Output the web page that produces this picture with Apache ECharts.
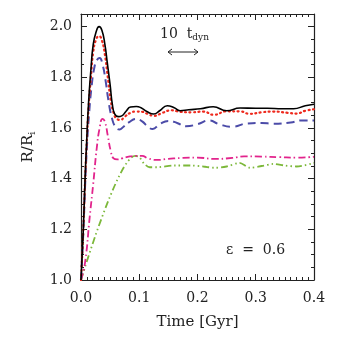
<!DOCTYPE html>
<html>
<head>
<meta charset="utf-8">
<script src="https://cdn.jsdelivr.net/npm/echarts@6/dist/echarts.min.js"></script>
<style>
  html, body { margin: 0; padding: 0; background: #fff; }
  #chart { width: 346px; height: 337px; }
</style>
</head>
<body>
<div id="chart"></div>
<script>
// time in Gyr, radius in units of R_i
var tBlack = [0, 0.004, 0.007, 0.010, 0.013, 0.017, 0.021, 0.026, 0.031, 0.036, 0.041, 0.045, 0.050, 0.054, 0.058, 0.064, 0.070, 0.077, 0.085, 0.095, 0.103, 0.113, 0.125, 0.135, 0.148, 0.160, 0.170, 0.185, 0.205, 0.227, 0.250, 0.273, 0.300, 0.320, 0.345, 0.365, 0.385, 0.400];
var rBlack = [1.0, 1.20, 1.40, 1.56, 1.70, 1.83, 1.93, 1.98, 2.0, 1.985, 1.93, 1.86, 1.77, 1.69, 1.655, 1.645, 1.648, 1.665, 1.683, 1.685, 1.68, 1.665, 1.655, 1.668, 1.688, 1.68, 1.668, 1.672, 1.676, 1.684, 1.668, 1.679, 1.678, 1.678, 1.676, 1.676, 1.688, 1.694];

var tRed = [0, 0.004, 0.007, 0.010, 0.013, 0.017, 0.021, 0.026, 0.031, 0.036, 0.041, 0.046, 0.051, 0.056, 0.062, 0.068, 0.075, 0.085, 0.095, 0.105, 0.115, 0.125, 0.140, 0.155, 0.170, 0.190, 0.210, 0.228, 0.250, 0.272, 0.290, 0.310, 0.330, 0.355, 0.370, 0.385, 0.400];
var rRed = [1.0, 1.20, 1.39, 1.55, 1.68, 1.80, 1.90, 1.95, 1.963, 1.945, 1.89, 1.80, 1.71, 1.66, 1.635, 1.632, 1.645, 1.66, 1.665, 1.664, 1.655, 1.648, 1.66, 1.67, 1.664, 1.662, 1.665, 1.652, 1.666, 1.666, 1.656, 1.662, 1.665, 1.66, 1.657, 1.668, 1.674];

var tBlue = [0, 0.004, 0.007, 0.010, 0.014, 0.018, 0.023, 0.028, 0.032, 0.037, 0.042, 0.047, 0.053, 0.059, 0.066, 0.073, 0.082, 0.095, 0.105, 0.115, 0.123, 0.135, 0.150, 0.165, 0.180, 0.200, 0.220, 0.237, 0.260, 0.285, 0.310, 0.330, 0.360, 0.380, 0.400];
var rBlue = [1.0, 1.19, 1.37, 1.52, 1.66, 1.76, 1.84, 1.87, 1.876, 1.85, 1.79, 1.71, 1.64, 1.605, 1.594, 1.605, 1.622, 1.636, 1.626, 1.605, 1.596, 1.615, 1.628, 1.62, 1.607, 1.615, 1.63, 1.615, 1.605, 1.618, 1.62, 1.617, 1.622, 1.63, 1.63];

var tPink = [0, 0.007, 0.015, 0.021, 0.027, 0.032, 0.037, 0.041, 0.046, 0.051, 0.056, 0.062, 0.070, 0.080, 0.095, 0.105, 0.115, 0.130, 0.150, 0.175, 0.200, 0.230, 0.260, 0.280, 0.310, 0.340, 0.370, 0.400];
var rPink = [1.0, 1.07, 1.25, 1.38, 1.52, 1.60, 1.636, 1.625, 1.57, 1.51, 1.48, 1.476, 1.48, 1.486, 1.49, 1.49, 1.48, 1.474, 1.478, 1.482, 1.483, 1.478, 1.482, 1.488, 1.487, 1.485, 1.483, 1.486];

var tGreen = [0, 0.093, 0.100, 0.108, 0.118, 0.130, 0.160, 0.190, 0.210, 0.230, 0.250, 0.272, 0.290, 0.310, 0.330, 0.350, 0.370, 0.400];
var rGreen = [1.0, 1.49, 1.485, 1.46, 1.445, 1.445, 1.452, 1.452, 1.448, 1.443, 1.448, 1.462, 1.443, 1.45, 1.458, 1.452, 1.448, 1.462];

function pairs(t, r) {
  return t.map(function (v, i) { return [v, r[i]]; });
}

var font = 'DejaVu Serif';
var chart = echarts.init(document.getElementById('chart'));

var tickStyle = { show: true, inside: true, length: 6, lineStyle: { color: '#222', width: 1 } };
var minorStyle = { show: true, length: 3, lineStyle: { color: '#222', width: 1 } };
var lineAxis = { show: true, onZero: false, lineStyle: { color: '#222', width: 1.2 } };

var option = {
  animation: false,
  grid: { left: 81, right: 32, top: 14, bottom: 57 },
  xAxis: [
    {
      type: 'value', min: 0, max: 0.4, interval: 0.1, position: 'bottom',
      axisLine: lineAxis, axisTick: tickStyle,
      minorTick: Object.assign({ splitNumber: 10 }, minorStyle),
      splitLine: { show: false },
      axisLabel: { fontFamily: font, fontSize: 14, color: '#222', margin: 11,
        formatter: function (v) { return v.toFixed(1); } },
      name: 'Time [Gyr]', nameLocation: 'middle', nameGap: 35,
      nameTextStyle: { fontFamily: font, fontSize: 15, color: '#222' }
    },
    {
      type: 'value', min: 0, max: 0.4, interval: 0.1, position: 'top',
      axisLine: lineAxis, axisTick: tickStyle,
      minorTick: Object.assign({ splitNumber: 10 }, minorStyle),
      splitLine: { show: false }, axisLabel: { show: false }
    }
  ],
  yAxis: [
    {
      type: 'value', min: 1.0, max: 2.05, interval: 0.2, position: 'left',
      axisLine: lineAxis, axisTick: tickStyle,
      minorTick: Object.assign({ splitNumber: 4 }, minorStyle),
      splitLine: { show: false },
      axisLabel: { fontFamily: font, fontSize: 14, color: '#222', margin: 9, showMaxLabel: false,
        formatter: function (v) { return v.toFixed(1); } },
      name: '{a|R/R}{b|i}', nameLocation: 'middle', nameGap: 44, nameRotate: 90,
      nameTextStyle: {
        rich: {
          a: { fontFamily: font, fontSize: 15, color: '#222' },
          b: { fontFamily: font, fontSize: 10, color: '#222', padding: [7, 0, 0, 0] }
        }
      }
    },
    {
      type: 'value', min: 1.0, max: 2.05, interval: 0.2, position: 'right',
      axisLine: lineAxis, axisTick: tickStyle,
      minorTick: Object.assign({ splitNumber: 4 }, minorStyle),
      splitLine: { show: false }, axisLabel: { show: false }
    }
  ],
  series: [
    { type: 'line', data: pairs(tGreen, rGreen), smooth: 0.3, showSymbol: false,
      lineStyle: { color: '#7cb83a', width: 1.8, type: [7, 3, 1.5, 3, 1.5, 3] } },
    { type: 'line', data: pairs(tPink, rPink), smooth: true, showSymbol: false,
      lineStyle: { color: '#e2248c', width: 1.8, type: [7, 3, 1.5, 3] } },
    { type: 'line', data: pairs(tBlue, rBlue), smooth: true, showSymbol: false,
      lineStyle: { color: '#4b4ba8', width: 2, type: [8, 5] } },
    { type: 'line', data: pairs(tRed, rRed), smooth: true, showSymbol: false,
      lineStyle: { color: '#ee2a1e', width: 2.2, type: [1, 3.5], cap: 'round' } },
    { type: 'line', data: pairs(tBlack, rBlack), smooth: true, showSymbol: false,
      lineStyle: { color: '#000', width: 1.6 } }
  ],
  graphic: [
    { type: 'text', left: 160, top: 27,
      style: { text: '{a|10  t}{b|dyn}', rich: {
        a: { fontFamily: font, fontSize: 14, fill: '#222' },
        b: { fontFamily: font, fontSize: 9, fill: '#222', padding: [8, 0, 0, 0] } } } },
    { type: 'line', shape: { x1: 168, y1: 52, x2: 198, y2: 52 }, style: { stroke: '#222', lineWidth: 1 } },
    { type: 'polyline', shape: { points: [[172, 49], [168, 52], [172, 55]] }, style: { stroke: '#222', lineWidth: 1, fill: null } },
    { type: 'polyline', shape: { points: [[194, 49], [198, 52], [194, 55]] }, style: { stroke: '#222', lineWidth: 1, fill: null } },
    { type: 'text', left: 226, top: 243,
      style: { text: 'ε  =  0.6', fontFamily: font, fontSize: 14, fill: '#222' } }
  ]
};
chart.setOption(option);
</script>
</body>
</html>
